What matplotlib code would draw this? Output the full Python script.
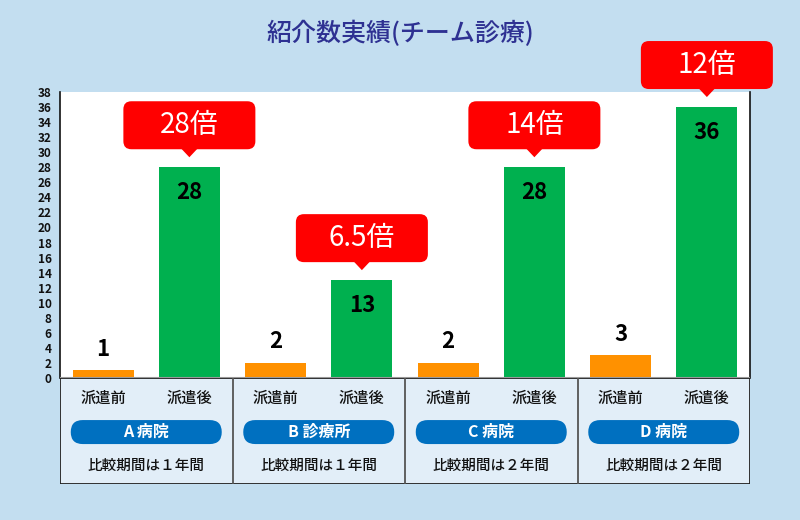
"""
紹介数実績（チーム診療）: before/after referral counts per hospital.
"""
import matplotlib
matplotlib.use("Agg")
import matplotlib.pyplot as plt
import matplotlib.transforms as mtransforms
from matplotlib.patches import FancyBboxPatch, Polygon, Rectangle

plt.rcParams['font.family'] = ['Noto Sans CJK JP', 'DejaVu Sans']

HOSPITALS = ["A 病院", "B 診療所", "C 病院", "D 病院"]
BEFORE = [1, 2, 2, 3]
AFTER = [28, 13, 28, 36]
RATIOS = ["28倍", "6.5倍", "14倍", "12倍"]
PERIODS = ["比較期間は１年間", "比較期間は１年間", "比較期間は２年間", "比較期間は２年間"]
PHASE_LABELS = ["派遣前", "派遣後"]
Y_TICKS = list(range(0, 39, 2))

BG = "#c3def0"
TABLE_BG = "#e2eef8"
ORANGE = "#ff9100"
GREEN = "#00b04f"
RED = "#ff0000"
PILL = "#0070c0"
TITLE_COLOR = "#2e3192"

fig = plt.figure(figsize=(8, 5.2), dpi=100, facecolor=BG)
ax = fig.add_axes([0.075, 0.2731, 0.8625, 0.55])
tab = fig.add_axes([0.075, 0.0692, 0.8625, 0.2039])

fig.text(0.5, 0.935, "紹介数実績(チーム診療)", ha="center", va="center",
         fontsize=18, color=TITLE_COLOR, fontweight="medium")


def px_trans(axis, x, y):
    """Transform whose units are pixels/100 (inches) around data point (x, y)."""
    return fig.dpi_scale_trans + mtransforms.ScaledTranslation(x, y, axis.transData)


# ---- bars
before_x = [2 * i + 0.5 for i in range(len(HOSPITALS))]
after_x = [2 * i + 1.5 for i in range(len(HOSPITALS))]
ax.bar(before_x, BEFORE, width=0.71, color=ORANGE, zorder=2)
ax.bar(after_x, AFTER, width=0.71, color=GREEN, zorder=2)

for x, v in zip(before_x, BEFORE):
    ax.annotate(str(v), (x, v), xytext=(0, 7), textcoords="offset points",
                ha="center", va="bottom", fontsize=16, fontweight="bold", color="black")
for x, v in zip(after_x, AFTER):
    ax.annotate(str(v), (x, v), xytext=(0, -18), textcoords="offset points",
                ha="center", va="center", fontsize=16, fontweight="bold", color="black")

# ---- red callouts
for x, v, r in zip(after_x, AFTER, RATIOS):
    tr = px_trans(ax, x, v)
    box = FancyBboxPatch((-0.66, 0.18), 1.32, 0.48,
                         boxstyle="round,pad=0,rounding_size=0.08",
                         fc=RED, ec="none", transform=tr, clip_on=False, zorder=5)
    ax.add_patch(box)
    tri = Polygon([(-0.08, 0.185), (0.08, 0.185), (0, 0.10)], closed=True,
                  fc=RED, ec="none", transform=tr, clip_on=False, zorder=5)
    ax.add_patch(tri)
    ax.text(0, 0.42, r, transform=tr, ha="center", va="center", fontsize=20,
            color="white", zorder=6, clip_on=False)

ax.set_xlim(0, 8)
ax.set_ylim(0, 38)
ax.set_yticks(Y_TICKS)
ax.set_yticklabels([str(t) for t in Y_TICKS], fontsize=8.5, fontweight="bold")
ax.tick_params(axis="y", length=0, pad=6, colors="#111111")
ax.set_xticks([])
ax.axhline(0, color="#999999", lw=1.5, zorder=3)
ax.spines["top"].set_visible(False)
ax.spines["bottom"].set_visible(False)
for s in ("left", "right"):
    ax.spines[s].set_color("#111111")
    ax.spines[s].set_linewidth(1.2)

# ---- label table under the chart
tab.set_xlim(0, 8)
tab.set_ylim(0, 1)
tab.axis("off")
tab.add_patch(Rectangle((0, 0), 8, 1, fc=TABLE_BG, ec="#222222", lw=1.3))
for d in (2, 4, 6):
    tab.plot([d, d], [0, 1], color="#555555", lw=1.3)

for i, (name, period) in enumerate(zip(HOSPITALS, PERIODS)):
    tab.text(before_x[i], 0.81, PHASE_LABELS[0], ha="center", va="center",
             fontsize=11, fontweight="medium", color="#111111")
    tab.text(after_x[i], 0.81, PHASE_LABELS[1], ha="center", va="center",
             fontsize=11, fontweight="medium", color="#111111")
    c = 2 * i + 1
    tr = px_trans(tab, c, 0.49)
    pill = FancyBboxPatch((-0.755, -0.12), 1.51, 0.24,
                          boxstyle="round,pad=0,rounding_size=0.12",
                          fc=PILL, ec="none", transform=tr)
    tab.add_patch(pill)
    tab.text(c, 0.49, name, ha="center", va="center", fontsize=11.5,
             fontweight="bold", color="white")
    tab.text(c, 0.17, period, ha="center", va="center", fontsize=10.5,
             fontweight="medium", color="#111111")

fig.savefig("out.png", dpi=100, facecolor=BG)
